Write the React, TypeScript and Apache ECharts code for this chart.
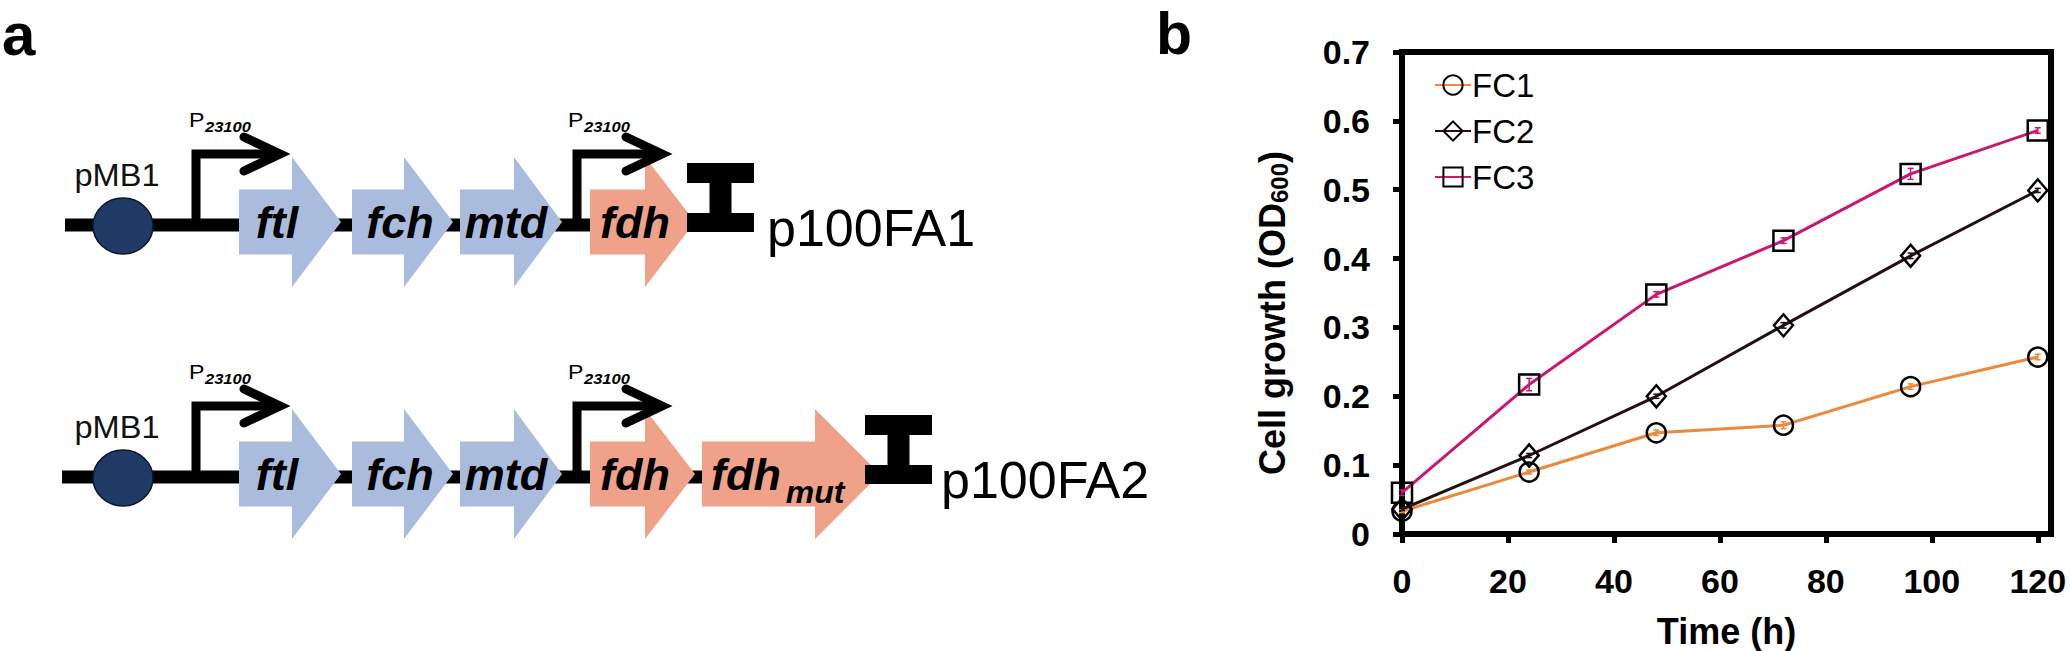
import React, { useEffect, useRef } from 'react';
import * as echarts from 'echarts';

// ---------------- Panel b data ----------------
const timeHours = [0, 24, 48, 72, 96, 120];
const fc1 = [0.033, 0.09, 0.147, 0.158, 0.214, 0.257];
const fc2 = [0.036, 0.114, 0.2, 0.303, 0.404, 0.499];
const fc3 = [0.06, 0.217, 0.348, 0.426, 0.523, 0.586];
const fc1Err = [0.002, 0.003, 0.004, 0.005, 0.004, 0.004];
const fc2Err = [0.002, 0.003, 0.003, 0.004, 0.004, 0.003];
const fc3Err = [0.004, 0.009, 0.004, 0.004, 0.008, 0.004];
const seriesNames = ['FC1', 'FC2', 'FC3'];
const xTickValues = [0, 20, 40, 60, 80, 100, 120];

// ---------------- Panel a content ----------------
const constructNames = ['p100FA1', 'p100FA2'];
const originName = 'pMB1';
const promoterName = 'P';
const promoterSub = '23100';
const genesRow1 = ['ftl', 'fch', 'mtd', 'fdh'];
const genesRow2 = ['ftl', 'fch', 'mtd', 'fdh', 'fdh_mut'];

const FONT = '"Liberation Sans", Arial, Helvetica, sans-serif';
const BLUE = '#AABCDE';
const SALMON = '#EFA189';
const NAVY = '#203A66';

// layout of the diagram (pixels)
const ROW_Y = [225, 477];
const GENE_GEOM: Record<string, { x0: number; xh: number; tip: number; tx: number; color: string }> = {
  ftl: { x0: 239, xh: 292, tip: 341, tx: 277, color: BLUE },
  fch: { x0: 352, xh: 404, tip: 453, tx: 400, color: BLUE },
  mtd: { x0: 460, xh: 514, tip: 562, tx: 506, color: BLUE },
  fdh: { x0: 590, xh: 645, tip: 695, tx: 635, color: SALMON },
  fdh_mut: { x0: 702, xh: 815, tip: 880, tx: 746, color: SALMON },
};
const PROMOTERS = [
  { x: 196, tip: 280, px: 189 },
  { x: 577, tip: 662, px: 568 },
];
const TERMINATOR_X = [
  [687, 754],
  [865, 932],
];
const BACKBONE_X = [
  [65, 720],
  [62, 898],
];
const LABEL_X = [767, 941];

function mid(baseline: number, fs: number) {
  return baseline - 0.347 * fs;
}

function buildRow(r: number): any[] {
  const y = ROW_Y[r];
  const els: any[] = [];
  const genes = r === 0 ? genesRow1 : genesRow2;
  // backbone
  els.push({
    type: 'rect',
    z: 1,
    shape: { x: BACKBONE_X[r][0], y: y - 6.5, width: BACKBONE_X[r][1] - BACKBONE_X[r][0], height: 13 },
    style: { fill: '#000' },
  });
  // origin
  els.push({
    type: 'ellipse',
    z: 2,
    shape: { cx: 123, cy: y + 1, rx: 30, ry: 28 },
    style: { fill: NAVY, stroke: '#0b1530', lineWidth: 1.5 },
  });
  els.push({
    type: 'text',
    z: 2,
    x: 117,
    y: mid(y - 39, 31),
    scaleX: 1.05,
    style: { text: originName, font: `normal 31px ${FONT}`, fill: '#111', align: 'center', verticalAlign: 'middle' },
  });
  // gene arrows
  const cy = y - 3;
  genes.forEach((g) => {
    const G = GENE_GEOM[g];
    els.push({
      type: 'polygon',
      z: 3,
      shape: {
        points: [
          [G.x0, cy - 32.5],
          [G.xh, cy - 32.5],
          [G.xh, cy - 65],
          [G.tip, cy],
          [G.xh, cy + 65],
          [G.xh, cy + 32.5],
          [G.x0, cy + 32.5],
        ],
      },
      style: { fill: G.color },
    });
    if (g === 'fdh_mut') {
      els.push({
        type: 'text',
        z: 5,
        x: G.tx,
        y: mid(y + 13, 45),
        style: { text: 'fdh', font: `italic bold 45px ${FONT}`, fill: '#000', align: 'center', verticalAlign: 'middle' },
      });
      els.push({
        type: 'text',
        z: 5,
        x: 815,
        y: mid(y + 26, 32),
        style: { text: 'mut', font: `italic bold 32px ${FONT}`, fill: '#000', align: 'center', verticalAlign: 'middle' },
      });
    } else {
      els.push({
        type: 'text',
        z: 5,
        x: G.tx,
        y: mid(y + 13, 45),
        style: { text: g, font: `italic bold 45px ${FONT}`, fill: '#000', align: 'center', verticalAlign: 'middle' },
      });
    }
  });
  // promoters
  PROMOTERS.forEach((p) => {
    const hy = y - 71;
    els.push({
      type: 'polyline',
      z: 6,
      shape: { points: [[p.x, y], [p.x, hy], [p.tip - 3, hy]] },
      style: { stroke: '#000', lineWidth: 9, fill: null, lineJoin: 'miter', lineCap: 'butt' },
    });
    els.push({
      type: 'polyline',
      z: 6,
      shape: { points: [[p.tip - 36, hy - 17], [p.tip, hy], [p.tip - 36, hy + 17]] },
      style: { stroke: '#000', lineWidth: 9, fill: null, lineJoin: 'miter', lineCap: 'round' },
    });
    els.push({
      type: 'text',
      z: 6,
      x: p.px,
      y: mid(y - 98, 21),
      scaleX: 1.1,
      style: { text: promoterName, font: `normal 21px ${FONT}`, fill: '#000', align: 'left', verticalAlign: 'middle' },
    });
    els.push({
      type: 'text',
      z: 6,
      x: p.px + 16,
      y: mid(y - 93, 15),
      scaleX: 1.1,
      style: { text: promoterSub, font: `italic bold 15px ${FONT}`, fill: '#000', align: 'left', verticalAlign: 'middle' },
    });
  });
  // terminator
  const [tx0, tx1] = TERMINATOR_X[r];
  const sc = (tx0 + tx1) / 2;
  els.push({
    type: 'polygon',
    z: 6,
    shape: {
      points: [
        [tx0, y - 62],
        [tx1, y - 62],
        [tx1, y - 42],
        [sc + 11, y - 42],
        [sc + 11, y - 12],
        [tx1, y - 12],
        [tx1, y + 7],
        [tx0, y + 7],
        [tx0, y - 12],
        [sc - 11, y - 12],
        [sc - 11, y - 42],
        [tx0, y - 42],
      ],
    },
    style: { fill: '#000' },
  });
  els.push({
    type: 'text',
    z: 6,
    x: LABEL_X[r],
    y: mid(y + 21, 52),
    style: { text: constructNames[r], font: `normal 52px ${FONT}`, fill: '#000', align: 'left', verticalAlign: 'middle' },
  });
  return els;
}

function errSeries(name: string, vals: number[], errs: number[], color: string) {
  return {
    type: 'custom',
    name,
    z: 4,
    silent: true,
    data: timeHours.map((t, i) => [t, vals[i], errs[i]]),
    renderItem: (params: any, api: any) => {
      const x = api.value(0);
      const yv = api.value(1);
      const e = api.value(2);
      const top = api.coord([x, yv + e]);
      const bot = api.coord([x, yv - e]);
      return {
        type: 'group',
        children: [
          { type: 'line', shape: { x1: top[0], y1: top[1], x2: bot[0], y2: bot[1] }, style: { stroke: color, lineWidth: 1.5 } },
          { type: 'line', shape: { x1: top[0] - 3, y1: top[1], x2: top[0] + 3, y2: top[1] }, style: { stroke: color, lineWidth: 1.5 } },
          { type: 'line', shape: { x1: bot[0] - 3, y1: bot[1], x2: bot[0] + 3, y2: bot[1] }, style: { stroke: color, lineWidth: 1.5 } },
        ],
      };
    },
  };
}

function buildOption(): any {
  const pts = (vals: number[]) => timeHours.map((t, i) => [t, vals[i]]);
  const lineColors = ['#EC8A3C', '#231010', '#CC1670'];
  const symbols: any[] = ['circle', 'diamond', 'rect'];
  const symSizes: any[] = [19, [19, 22], 20];
  const data = [fc1, fc2, fc3];

  const graphics: any[] = [
    {
      type: 'text',
      x: 2,
      y: mid(55, 60),
      style: { text: 'a', font: `bold 60px ${FONT}`, fill: '#000', align: 'left', verticalAlign: 'middle' },
    },
    {
      type: 'text',
      x: 1156,
      y: mid(54, 59),
      style: { text: 'b', font: `bold 59px ${FONT}`, fill: '#000', align: 'left', verticalAlign: 'middle' },
    },
    {
      type: 'text',
      x: 1272,
      y: 313,
      rotation: Math.PI / 2,
      style: {
        text: 'Cell growth (OD{sub|600})',
        font: `bold 36px ${FONT}`,
        fill: '#000',
        align: 'center',
        verticalAlign: 'middle',
        rich: {
          sub: { fontSize: 24, fontWeight: 'bold', fontFamily: FONT, verticalAlign: 'bottom', padding: [14, 0, 0, 0] },
        },
      },
    },
    ...buildRow(0),
    ...buildRow(1),
  ];

  return {
    animation: false,
    backgroundColor: '#ffffff',
    grid: {
      left: 1402,
      right: 19,
      top: 52,
      bottom: 117,
      show: true,
      borderColor: '#000',
      borderWidth: 6,
      outerBoundsMode: 'none',
      containLabel: false,
    },
    legend: {
      data: seriesNames,
      orient: 'vertical',
      left: 1434,
      top: 68,
      padding: 0,
      itemGap: 12,
      itemWidth: 36,
      itemHeight: 24,
      textStyle: { fontFamily: FONT, fontSize: 33, color: '#000', lineHeight: 34, padding: [0, 0, 0, -4] },
    },
    xAxis: {
      type: 'value',
      min: 0,
      max: 122.5,
      name: 'Time (h)',
      nameLocation: 'middle',
      nameGap: 79,
      nameTextStyle: { fontFamily: FONT, fontSize: 36, fontWeight: 'bold', color: '#000' },
      axisLine: { show: true, lineStyle: { color: '#000', width: 6 } },
      axisTick: { show: true, length: 9, lineStyle: { color: '#000', width: 5 }, customValues: xTickValues },
      axisLabel: {
        customValues: xTickValues,
        margin: 30,
        fontFamily: FONT,
        fontSize: 34,
        fontWeight: 'bold',
        color: '#000',
      },
      splitLine: { show: false },
    },
    yAxis: {
      type: 'value',
      min: 0,
      max: 0.7,
      interval: 0.1,
      axisLine: { show: true, lineStyle: { color: '#000', width: 6 } },
      axisTick: { show: true, length: 9, lineStyle: { color: '#000', width: 5 } },
      axisLabel: {
        margin: 32,
        fontFamily: FONT,
        fontSize: 34,
        fontWeight: 'bold',
        color: '#000',
        formatter: (v: number) => (v === 0 ? '0' : v.toFixed(1)),
      },
      splitLine: { show: false },
    },
    graphic: { elements: graphics },
    series: [
      ...seriesNames.map((n, i) => ({
        type: 'line',
        name: n,
        data: pts(data[i]),
        symbol: symbols[i],
        symbolSize: symSizes[i],
        z: 3 + i,
        lineStyle: { color: lineColors[i], width: 3 },
        itemStyle: { color: 'rgba(255,255,255,0)', borderColor: '#000', borderWidth: 2.5 },
        emphasis: { disabled: true },
      })),
      errSeries('FC1 err', fc1, fc1Err, lineColors[0]),
      errSeries('FC2 err', fc2, fc2Err, lineColors[1]),
      errSeries('FC3 err', fc3, fc3Err, lineColors[2]),
    ],
  };
}

export default function App() {
  const ref = useRef<HTMLDivElement>(null);
  useEffect(() => {
    const chart = echarts.init(ref.current as HTMLDivElement, null, { renderer: 'svg' });
    chart.setOption(buildOption());
    return () => chart.dispose();
  }, []);
  return (
    <div
      ref={ref}
      style={{ position: 'absolute', left: 0, top: 0, width: 2070, height: 651, background: '#fff' }}
    />
  );
}
